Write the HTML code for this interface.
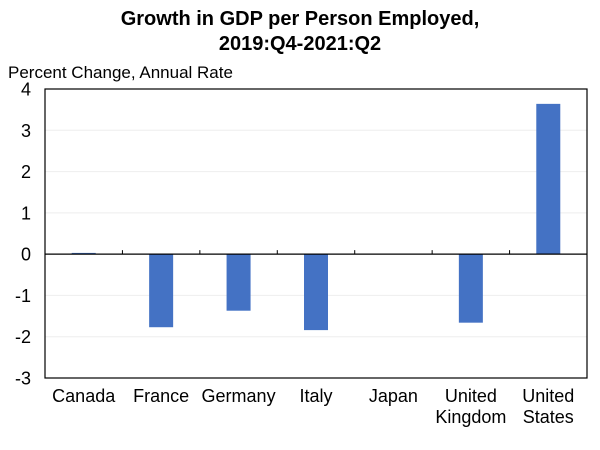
<!DOCTYPE html>
<html><head><meta charset="utf-8"><style>
body{margin:0;background:#fff;}
svg{display:block;font-family:"Liberation Sans",Arial,sans-serif;}
</style></head><body>
<svg id="chart" width="600" height="450">
<text x="300" y="25" text-anchor="middle" font-size="20" font-weight="bold">Growth in GDP per Person Employed,</text>
<text x="300" y="50" text-anchor="middle" font-size="20" font-weight="bold">2019:Q4-2021:Q2</text>
<text x="8" y="78" font-size="17">Percent Change, Annual Rate</text>
</svg>
<script>
const categories=[["Canada"],["France"],["Germany"],["Italy"],["Japan"],["United","Kingdom"],["United","States"]];
const values=[0.03,-1.77,-1.37,-1.84,0,-1.66,3.64];
const yTicks=[4,3,2,1,0,-1,-2,-3];
const svg=document.getElementById('chart');
const NS='http://www.w3.org/2000/svg';
const L=45,R=587,T=89,B=378,yMin=-3,yMax=4;
const y=v=>T+(yMax-v)/(yMax-yMin)*(B-T);
const cw=(R-L)/categories.length;
const x=i=>L+cw*(i+0.5);
function mk(tag,attrs){const e=document.createElementNS(NS,tag);for(const k in attrs)e.setAttribute(k,attrs[k]);svg.appendChild(e);return e;}
yTicks.forEach(t=>{
  if(t!==0&&t!==yMax&&t!==yMin){const g=mk('line',{x1:L,x2:R,y1:y(t),y2:y(t),stroke:'#eeeeee','stroke-width':1});
  
  }
  const tx=mk('text',{x:31,y:y(t)+6.5,'text-anchor':'end','font-size':18});
  tx.textContent=t;
  
  
});
values.forEach((v,i)=>{
  const bw=24;
  const r=mk('rect',{x:x(i)-bw/2,y:Math.min(y(v),y(0)),width:bw,height:Math.max(Math.abs(y(v)-y(0)),0),fill:'#4472c4'});
  
  
  categories[i].forEach((ln,j)=>{
    const tx=mk('text',{x:x(i),y:402+j*21,'text-anchor':'middle','font-size':18});
    tx.textContent=ln;
    
    
  });
});
const box=mk('rect',{x:L,y:T,width:R-L,height:B-T,fill:'none',stroke:'#000','stroke-width':1.2});


const zl=mk('line',{x1:L,x2:R,y1:y(0),y2:y(0),stroke:'#000','stroke-width':1.2});


for(let i=1;i<categories.length;i++){
  const tk=mk('line',{x1:L+cw*i,x2:L+cw*i,y1:y(0)-4,y2:y(0),stroke:'#000','stroke-width':1});
  
  
}
</script>
</body></html>
